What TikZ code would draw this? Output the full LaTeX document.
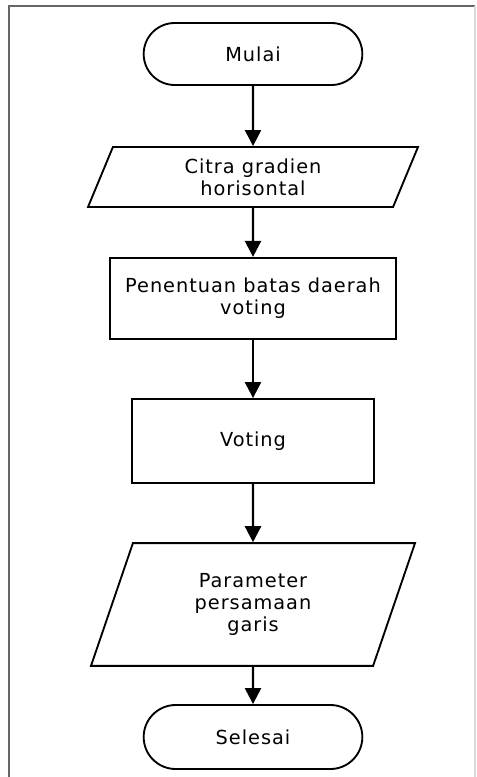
\documentclass[tikz,border=0pt]{standalone}
\usepackage{fontspec}
\setmainfont{DejaVu Sans}[LetterSpace=5]
\usetikzlibrary{shapes.geometric,shapes.misc,arrows.meta}

\begin{document}
\begin{tikzpicture}[x=0.75pt, y=-0.75pt, font=\fontsize{14.5}{16.5}\selectfont]

\tikzstyle{terminal}=[rounded rectangle, draw, line width=1.4pt, inner sep=0pt, minimum width=164pt]
\tikzstyle{proses}=[rectangle, draw, line width=1.4pt, inner sep=0pt, align=center]
\tikzstyle{io}=[trapezium, trapezium left angle=56, trapezium right angle=124, trapezium stretches body, draw, line width=1.4pt, inner sep=0pt, align=center]
\tikzstyle{arrow}=[-{Triangle[length=12pt,width=12pt]}, line width=1.8pt]

\useasboundingbox (0,0) rectangle (476,777);

% frame
\draw [line width=1.5pt, black!60] (9,777) -- (9,6) -- (475,6);
\draw [line width=1pt, black!15] (475,6) -- (475,777);

\node (mulai) [terminal, minimum height=46.5pt] at (253,54) {Mulai};
\node (citra) [io, minimum width=247.5pt, minimum height=45pt] at (253,177) {Citra gradien\\horisontal};
\node (batas) [proses, minimum width=214pt, minimum height=61pt] at (253,298.5) {Penentuan batas daerah\\voting};
\node (voting) [proses, minimum width=182pt, minimum height=63pt] at (253,441) {Voting};
\node (param) [io, minimum width=243pt, minimum height=92pt] at (253,604.5) {Parameter\\persamaan\\garis};
\node (selesai) [terminal, minimum height=48pt] at (253,737) {Selesai};

\draw [arrow] (mulai) -- (citra);
\draw [arrow] (citra) -- (batas);
\draw [arrow] (batas) -- (voting);
\draw [arrow] (voting) -- (param);
\draw [arrow] (param) -- (selesai);

\end{tikzpicture}
\end{document}
